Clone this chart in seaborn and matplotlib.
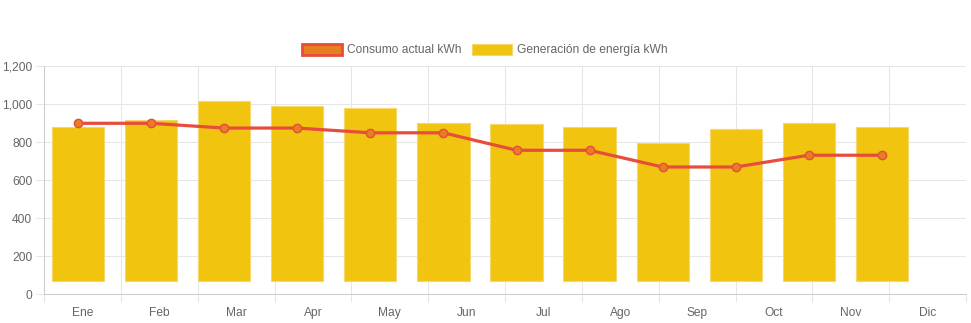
import numpy as np
import matplotlib
matplotlib.use("Agg")
import matplotlib.pyplot as plt
from matplotlib.patches import Patch
from matplotlib.ticker import FuncFormatter, FixedLocator
import seaborn as sns

# Datos mensuales
meses = ["Ene", "Feb", "Mar", "Apr", "May", "Jun", "Jul", "Ago", "Sep", "Oct", "Nov", "Dic"]
generacion = [880, 920, 1020, 990, 980, 900, 895, 880, 795, 870, 900, 880]
consumo = [900, 900, 875, 875, 850, 850, 758, 758, 670, 670, 732, 732]
base_barras = 70
yticks = [0, 200, 400, 600, 800, 1000, 1200]

ROJO = "#E74C3C"
NARANJA = "#E67E22"
AMARILLO = "#F1C40F"
GRIS_TXT = "#666666"
GRIS_GRID = "#e6e6e6"
GRIS_EJE = "#cccccc"

sns.set_theme(style="white")
plt.rcParams["font.family"] = ["Liberation Sans", "DejaVu Sans"]
FS = 8.64

fig = plt.figure(figsize=(9.71, 3.23), dpi=100)
W, H = 971, 323
ax = fig.add_axes([44 / W, (H - 294.3) / H, (966 - 44) / W, (294.3 - 66.3) / H])

# Eje de categorías: rejilla en los bordes, etiquetas centradas
n = len(meses)
ax.set_xlim(0, n)
ax.set_ylim(0, 1200)
ax.xaxis.set_major_locator(FixedLocator(np.arange(n + 1)))
ax.xaxis.set_minor_locator(FixedLocator(np.arange(n) + 0.5))
ax.set_xticklabels([], minor=False)
ax.set_xticklabels(meses, minor=True)
ax.tick_params(axis="x", which="major", length=6, width=0.75, color=GRIS_GRID, bottom=True)
ax.tick_params(axis="x", which="minor", length=0, pad=9.5, labelsize=FS, labelcolor=GRIS_TXT)
ax.set_yticks(yticks)
ax.yaxis.set_major_formatter(FuncFormatter(lambda v, p: f"{int(v):,}"))
ax.tick_params(axis="y", length=6, width=0.75, color=GRIS_GRID, left=True, pad=2.5,
               labelsize=FS, labelcolor=GRIS_TXT)
ax.grid(True, which="major", color=GRIS_GRID, linewidth=0.75)
for s in ["top", "right"]:
    ax.spines[s].set_visible(False)
for s in ["left", "bottom"]:
    ax.spines[s].set_color(GRIS_EJE)
    ax.spines[s].set_linewidth(0.75)
ax.set_axisbelow(True)

# Series sobre un eje superpuesto
ax2 = ax.twiny()
idx = np.arange(len(generacion))
alturas = np.array(generacion) - base_barras
sns.barplot(x=idx, y=alturas, bottom=base_barras, native_scale=True, width=0.715,
            color=AMARILLO, saturation=1, edgecolor="#f5d76e", linewidth=0.8, ax=ax2)
sns.lineplot(x=idx, y=consumo, ax=ax2, color=ROJO, linewidth=2.3, marker="o",
             markersize=6, markerfacecolor=NARANJA, markeredgecolor=ROJO,
             markeredgewidth=1, legend=False)
ax2.set_xlim(-0.465, 12.15)
ax2.set_ylim(0, 1200)
ax2.set_xticks([])
ax2.set_xlabel("")
ax2.set_ylabel("")
for s in ax2.spines.values():
    s.set_visible(False)
ax.set_xlabel("")
ax.set_ylabel("")

handles = [
    Patch(facecolor=NARANJA, edgecolor=ROJO, linewidth=2, label="Consumo actual kWh"),
    Patch(facecolor=AMARILLO, edgecolor="#f5d76e", linewidth=0.8, label="Generación de energía kWh"),
]
fig.legend(handles=handles, loc="center", bbox_to_anchor=(0.4995, 1 - 50 / H), ncol=2,
           frameon=False, fontsize=FS, labelcolor=GRIS_TXT, handlelength=3.3,
           handleheight=1.0, handletextpad=0.45, columnspacing=0.9)

fig.savefig("out.png", dpi=100)
